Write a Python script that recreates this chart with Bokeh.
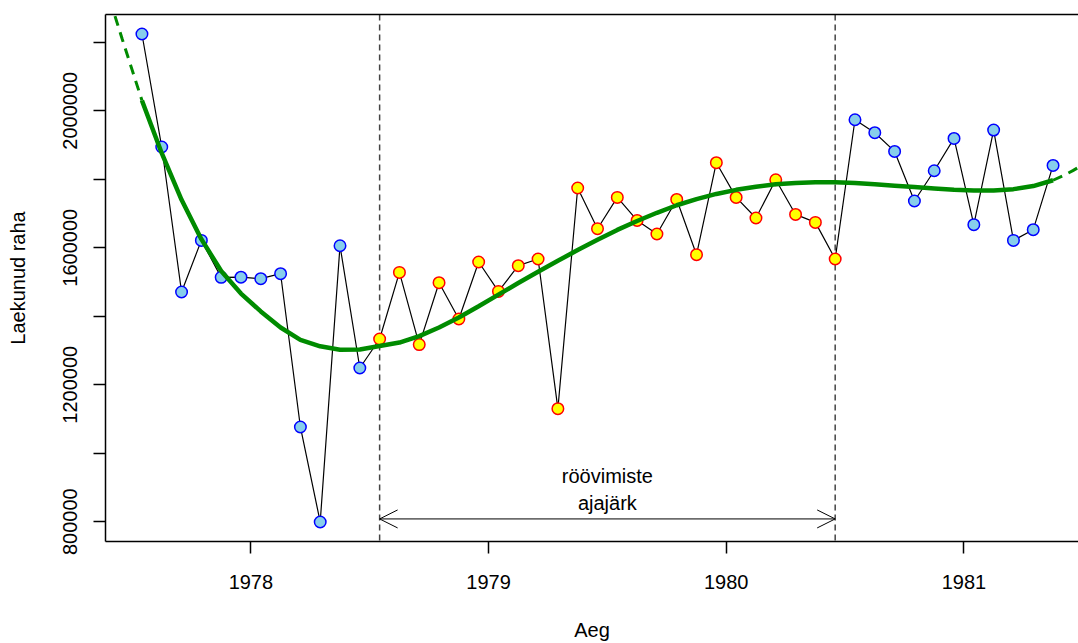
from bokeh.plotting import figure
from bokeh.models import (Range1d, FixedTicker, LinearAxis, Span, Arrow, OpenHead,
                          ColumnDataSource)
from bokeh.core.properties import value
from bokeh.embed import file_html
from bokeh.resources import INLINE

# ---------------- data ----------------
start_year = 1977
start_month = 7          # first observation: July 1977 (monthly series)
receipts = [
    2224000, 1894000, 1470700, 1621400, 1513400, 1514000, 1509500, 1524100,
    1076500, 799100, 1605800, 1248700,
    1333400, 1527900, 1317000, 1497800, 1391800, 1558200, 1472400, 1547500,
    1567000, 1129900, 1774300, 1655500, 1746900, 1679700, 1640000, 1741000,
    1579600, 1848200, 1746900, 1686700, 1798500, 1697200, 1673900, 1567000,
    1973700, 1935800, 1881200, 1736400, 1824800, 1919100, 1667200, 1943600,
    1621400, 1652600, 1840300,
]
# smooth trend read at each month
trend = [
    2030000, 1876000, 1740000, 1625000, 1532000, 1466000, 1414000, 1367000,
    1331000, 1312000, 1302000, 1303000,
    1313000, 1323000, 1342000, 1367000, 1396000, 1429000, 1463000, 1497000,
    1530000, 1562000, 1593000, 1623000, 1652000, 1678000, 1702000, 1724000,
    1742000, 1757000, 1769000, 1778000, 1785000, 1789000, 1791000, 1791000,
    1789000, 1785000, 1781000, 1777000, 1773000, 1769000, 1767000, 1767000,
    1771000, 1780000, 1797000,
]
# extrapolated trend (dashed) beyond the data
trend_left_t = [1977.385, 1977.4167, 1977.4583, 1977.5, 1977.5417]
trend_left_v = [2371000, 2302000, 2210000, 2120000, 2030000]
trend_right_t = [1981.375, 1981.4167, 1981.4583, 1981.5]
trend_right_v = [1797000, 1810000, 1825000, 1842000]

robbery_first = 12       # index of July 1978
robbery_last = 35        # index of June 1980
arrow_level = 808000
period_label = "röövimiste\najajärk"
x_ticks = [1978, 1979, 1980, 1981]
y_ticks = [800000, 1000000, 1200000, 1400000, 1600000, 1800000, 2000000, 2200000]
y_labeled = [800000, 1200000, 1600000, 2000000]

# ---------------- derived ----------------
times = [start_year + (start_month - 1 + i + 0.5) / 12 for i in range(len(receipts))]
normal_t = [t for i, t in enumerate(times) if not (robbery_first <= i <= robbery_last)]
normal_v = [v for i, v in enumerate(receipts) if not (robbery_first <= i <= robbery_last)]
rob_t = times[robbery_first:robbery_last + 1]
rob_v = receipts[robbery_first:robbery_last + 1]

xmin, xmax = min(times), max(times)
xpad = 0.04 * (xmax - xmin)
x_start = xmin - xpad
# the original plot region is cut by the image's right edge
x_end = x_start + (xmax + xpad - x_start) * (973 / 984)
ymin, ymax = min(receipts), max(receipts)
ypad = 0.04 * (ymax - ymin)

FONT = "Liberation Sans"
FS = "20px"

p = figure(width=1078, height=643,
           x_range=Range1d(x_start, x_end), y_range=Range1d(ymin - ypad, ymax + ypad),
           output_backend="svg", toolbar_location=None,
           min_border_left=105, min_border_right=0, min_border_top=14, min_border_bottom=102)
p.outline_line_color = None
p.xgrid.visible = False
p.ygrid.visible = False
p.background_fill_color = "white"
p.border_fill_color = "white"

for ax in (p.xaxis[0], p.yaxis[0]):
    ax.axis_line_color = "black"
    ax.axis_line_width = 1.5
    ax.major_tick_line_color = "black"
    ax.major_tick_line_width = 1.5
    ax.major_tick_out = 12
    ax.major_tick_in = 0
    ax.minor_tick_line_color = None
    ax.major_label_text_font = FONT
    ax.major_label_text_font_size = FS
    ax.major_label_text_color = "black"
    ax.axis_label_text_font = FONT
    ax.axis_label_text_font_size = FS
    ax.axis_label_text_font_style = "normal"
    ax.axis_label_text_color = "black"

p.xaxis.ticker = FixedTicker(ticks=x_ticks)
p.xaxis.major_label_overrides = {t: str(t) for t in x_ticks}
p.xaxis.major_label_standoff = 21
p.xaxis.axis_label = "Aeg"
p.xaxis.axis_label_standoff = 27

p.yaxis.ticker = FixedTicker(ticks=y_ticks)
p.yaxis.major_label_overrides = {t: (str(t) if t in y_labeled else "") for t in y_ticks}
p.yaxis.major_label_orientation = "vertical"
p.yaxis.major_label_standoff = 16
p.yaxis.axis_label = "Laekunud raha"
p.yaxis.axis_label_standoff = 32

top = LinearAxis(ticker=FixedTicker(ticks=[]), axis_line_color="black", axis_line_width=1.5,
                 major_tick_out=0, major_tick_in=0, minor_tick_line_color=None,
                 major_label_standoff=0, major_label_text_font_size="0px")
p.add_layout(top, "above")

# robbery period boundaries
for t in (times[robbery_first], times[robbery_last]):
    p.add_layout(Span(location=t, dimension="height", line_color="#444444",
                      line_width=1.5, line_dash="6 4", level="underlay"))

# series line
p.line(times, receipts, line_color="black", line_width=1.2)
# points
p.scatter(normal_t, normal_v, size=11.5, fill_color="skyblue", line_color="blue", line_width=1.5)
p.scatter(rob_t, rob_v, size=11.5, fill_color="yellow", line_color="red", line_width=1.5)

# trend
GREEN = "#008B00"
p.line(trend_left_t, trend_left_v, line_color=GREEN, line_width=3, line_dash="10 7")
p.line(trend_right_t, trend_right_v, line_color=GREEN, line_width=3, line_dash="10 7")
p.line(times, trend, line_color=GREEN, line_width=4.5)

# arrow and label
p.add_layout(Arrow(start=OpenHead(size=18, line_width=1, line_color="black"),
                   end=OpenHead(size=18, line_width=1, line_color="black"),
                   x_start=times[robbery_first], y_start=arrow_level,
                   x_end=times[robbery_last], y_end=arrow_level,
                   line_width=1, line_color="black"))
mid_t = (times[robbery_first] + times[robbery_last]) / 2
src = ColumnDataSource(dict(x=[mid_t], y=[arrow_level + 86000], t=[period_label]))
p.text(x="x", y="y", text="t", source=src, text_align="center", text_baseline="middle",
       text_font=value(FONT), text_font_size=FS, text_color="black", text_line_height=1.25)

open("out.html", "w").write(file_html(p, INLINE))
